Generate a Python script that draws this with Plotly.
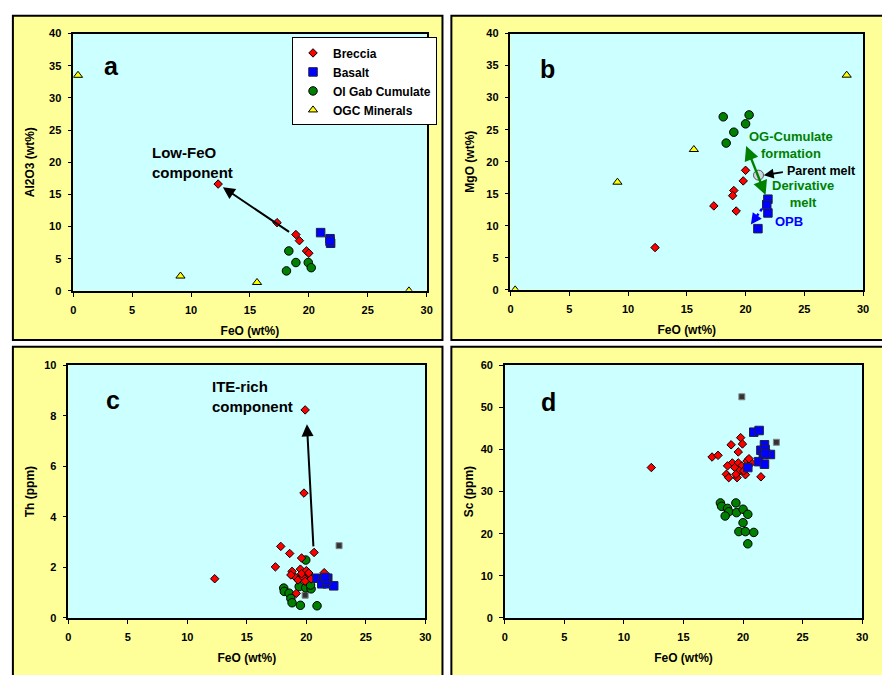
import plotly.graph_objects as go

# ---------------- data ----------------
# Panel a: Al2O3 vs FeO
a_brec_feo = [12.3, 17.3, 18.9, 19.2, 19.8, 20.0]
a_brec_al = [16.6, 10.6, 8.75, 7.8, 6.2, 5.85]
a_bas_feo = [21.0, 21.8, 21.85, 21.8]
a_bas_al = [9.05, 8.1, 7.4, 7.7]
a_ogc_feo = [18.3, 18.9, 19.95, 20.2, 18.1]
a_ogc_al = [6.2, 4.4, 4.4, 3.6, 3.1]
a_min_feo = [0.4, 9.1, 15.6, 28.5]
a_min_al = [33.5, 2.3, 1.3, 0.0]

# Panel b: MgO vs FeO
b_brec_feo = [12.3, 17.3, 19.0, 18.9, 19.2, 19.8, 20.0]
b_brec_mg = [6.6, 13.1, 15.5, 14.7, 12.3, 17.0, 18.65]
b_bas_feo = [21.9, 21.8, 21.9, 21.05]
b_bas_mg = [14.15, 13.3, 12.0, 9.55]
b_ogc_feo = [18.1, 20.3, 20.0, 19.0, 18.35]
b_ogc_mg = [27.0, 27.3, 25.9, 24.6, 22.9]
b_min_feo = [0.4, 9.1, 15.6, 28.6]
b_min_mg = [0.0, 16.8, 21.9, 33.5]
parent_feo = [21.1]
parent_mg = [17.9]

# Panel c: Th vs FeO
c_brec_feo = [19.9, 19.8, 20.65, 17.85, 18.6, 17.4, 12.3, 19.6, 19.15, 21.5,
              18.8, 19.1, 19.5, 20.0, 20.3, 18.7, 19.3, 19.75, 20.4, 19.6, 19.9, 20.2]
c_brec_th = [8.23, 4.94, 2.59, 2.83, 2.55, 2.02, 1.55, 2.37, 0.97, 1.79,
             1.84, 1.6, 1.93, 1.87, 1.67, 1.7, 1.5, 1.6, 1.54, 1.75, 1.45, 1.78]
c_bas_feo = [20.9, 21.4, 21.8, 21.3, 21.75, 22.3, 21.7, 21.6]
c_bas_th = [1.57, 1.54, 1.57, 1.35, 1.35, 1.27, 1.48, 1.6]
c_ogc_feo = [19.95, 19.65, 18.1, 18.15, 18.55, 18.7, 18.8, 19.4, 19.95, 20.25, 20.4, 19.5, 20.9, 20.35]
c_ogc_th = [2.29, 1.7, 1.18, 1.05, 0.98, 0.77, 0.6, 1.24, 1.19, 1.41, 1.15, 0.5, 0.48, 1.3]
c_oth_feo = [22.75, 19.9]
c_oth_th = [2.86, 0.9]

# Panel d: Sc vs FeO
d_brec_feo = [12.3, 19.8, 19.0, 19.95, 17.4, 17.9, 19.6, 19.1, 18.7, 19.6, 20.35, 20.7,
              20.5, 19.9, 19.3, 19.7, 18.6, 18.8, 19.5, 20.2, 19.4, 21.5, 20.05]
d_brec_sc = [35.7, 42.8, 41.1, 41.3, 38.2, 38.6, 39.4, 36.8, 36.1, 36.8, 37.3, 36.8,
             37.8, 36.1, 35.7, 34.9, 34.1, 33.3, 33.3, 34.0, 34.1, 33.5, 34.9]
d_bas_feo = [20.9, 21.35, 21.8, 21.5, 21.85, 21.7, 22.3, 21.3, 21.8, 20.4, 21.9]
d_bas_sc = [44.1, 44.5, 41.1, 39.8, 40.0, 38.8, 38.8, 37.1, 36.5, 35.7, 39.0]
d_ogc_feo = [18.1, 18.2, 18.7, 18.8, 18.5, 19.4, 19.45, 20.0, 20.4, 20.0, 19.65, 20.2, 20.9, 20.4]
d_ogc_sc = [27.3, 26.5, 26.0, 25.2, 24.2, 27.3, 25.0, 25.8, 24.6, 22.6, 20.5, 20.5, 20.3, 17.6]
d_oth_feo = [19.9, 22.8]
d_oth_sc = [52.5, 41.7]

# ---------------- styles ----------------
FONT = "Liberation Sans, Arial, sans-serif"
RED = "#FF0000"
BLUE = "#0000FF"
GREEN = "#008000"
YELLOW = "#FFFF00"

styles = {
    "Breccia": dict(symbol="diamond", size=6.5, color=RED, line=dict(color="black", width=1)),
    "Basalt": dict(symbol="square", size=8.5, color=BLUE, line=dict(color="#202040", width=1)),
    "Ol Gab Cumulate": dict(symbol="circle", size=8.5, color=GREEN, line=dict(color="black", width=1)),
    "OGC Minerals": dict(symbol="triangle-up", size=8, color=YELLOW, line=dict(color="black", width=1)),
}

fig = go.Figure()


def add(x, y, name, ax, legend=False):
    fig.add_trace(go.Scatter(x=x, y=y, mode="markers", name=name, marker=styles[name],
                             xaxis="x" + ax, yaxis="y" + ax, showlegend=legend))


# panel a
add(a_brec_feo, a_brec_al, "Breccia", "", True)
add(a_bas_feo, a_bas_al, "Basalt", "", True)
add(a_ogc_feo, a_ogc_al, "Ol Gab Cumulate", "", True)
add(a_min_feo, a_min_al, "OGC Minerals", "", True)
# panel b
add(b_brec_feo, b_brec_mg, "Breccia", "2")
add(b_bas_feo, b_bas_mg, "Basalt", "2")
add(b_ogc_feo, b_ogc_mg, "Ol Gab Cumulate", "2")
add(b_min_feo, b_min_mg, "OGC Minerals", "2")
fig.add_trace(go.Scatter(x=parent_feo, y=parent_mg, mode="markers", showlegend=False,
                         marker=dict(symbol="circle", size=10, color="#D0D8DC",
                                     line=dict(color="#555555", width=1)),
                         xaxis="x2", yaxis="y2"))
# panel c
fig.add_trace(go.Scatter(x=c_oth_feo, y=c_oth_th, mode="markers", showlegend=False,
                         marker=dict(symbol="square", size=6, color="#333333",
                                     line=dict(color="#888888", width=1)),
                         xaxis="x3", yaxis="y3"))
add(c_ogc_feo, c_ogc_th, "Ol Gab Cumulate", "3")
add(c_brec_feo, c_brec_th, "Breccia", "3")
add(c_bas_feo, c_bas_th, "Basalt", "3")
# panel d
fig.add_trace(go.Scatter(x=d_oth_feo, y=d_oth_sc, mode="markers", showlegend=False,
                         marker=dict(symbol="square", size=6, color="#333333",
                                     line=dict(color="#888888", width=1)),
                         xaxis="x4", yaxis="y4"))
add(d_ogc_feo, d_ogc_sc, "Ol Gab Cumulate", "4")
add(d_brec_feo, d_brec_sc, "Breccia", "4")
add(d_bas_feo, d_bas_sc, "Basalt", "4")

W, H = 882, 675


def xd(p0, p1):
    return [p0 / W, p1 / W]


def yd(top, bottom):
    return [1 - bottom / H, 1 - top / H]


tickfont = dict(family=FONT, size=11, color="black", weight="bold")
titlefont = dict(family=FONT, size=12, color="black", weight="bold")


def xaxis(domain, anchor):
    return dict(domain=domain, anchor=anchor, range=[0, 30], dtick=5, tick0=0,
                showline=True, linecolor="black", linewidth=1.5, mirror=True,
                ticks="outside", ticklen=4, tickcolor="black", tickwidth=1,
                ticklabelstandoff=4,
                showgrid=False, zeroline=False, tickfont=tickfont,
                title=dict(text="FeO (wt%)", font=titlefont, standoff=12))


def yaxis(domain, anchor, rng, dtick, title, standoff):
    return dict(domain=domain, anchor=anchor, range=rng, dtick=dtick, tick0=0,
                showline=True, linecolor="black", linewidth=1.5, mirror=True,
                ticks="outside", ticklen=4, tickcolor="black", tickwidth=1,
                ticklabelstandoff=4,
                showgrid=False, zeroline=False, tickfont=tickfont,
                title=dict(text=title, font=titlefont, standoff=standoff))


fig.update_layout(
    width=W, height=H, margin=dict(l=0, r=0, t=0, b=0),
    paper_bgcolor="white", plot_bgcolor="rgba(0,0,0,0)",
    font=dict(family=FONT, color="black"),
    xaxis=xaxis(xd(71, 428), "y"),
    yaxis=yaxis(yd(28, 290), "x", [0, 40], 5, "Al2O3 (wt%)", 12),
    xaxis2=xaxis(xd(512.7, 869), "y2"),
    yaxis2=yaxis(yd(28, 289), "x2", [0, 40], 5, "MgO (wt%)", 9),
    xaxis3=xaxis(xd(66, 426.7), "y3"),
    yaxis3=yaxis(yd(365.7, 623), "x3", [0, 10], 2, "Th (ppm)", 7),
    xaxis4=xaxis(xd(507, 868), "y4"),
    yaxis4=yaxis(yd(365.7, 623), "x4", [0, 60], 10, "Sc (ppm)", 4),
    legend=dict(x=292 / W, y=1 - 32 / H, xanchor="left", yanchor="top",
                bgcolor="white", bordercolor="black", borderwidth=1,
                font=dict(family=FONT, size=12, color="black", weight="bold"),
                itemsizing="trace", itemwidth=30, tracegroupgap=0),
    showlegend=True,
)

# yellow panel boxes
boxes = [(10, 10, 444, 340), (453, 10, 890, 340), (10, 347, 444, 690), (453, 347, 890, 690)]
shapes = []
for (l, t, r, b) in boxes:
    shapes.append(dict(type="rect", xref="paper", yref="paper", layer="below",
                       x0=l / W, x1=r / W, y0=1 - b / H, y1=1 - t / H,
                       fillcolor="#FFFF99", line=dict(color="black", width=2)))
for ax in ["", "2", "3", "4"]:
    shapes.append(dict(type="rect", xref="x" + ax + " domain", yref="y" + ax + " domain",
                       layer="below", x0=0, x1=1, y0=0, y1=1,
                       fillcolor="#CCFFFF", line=dict(width=0)))
# blue dotted OPB line
shapes.append(dict(type="line", xref="x2", yref="y2", x0=21.7, y0=13.4, x1=20.55, y1=10.5,
                   line=dict(color=BLUE, width=2.5, dash="dot")))
fig.update_layout(shapes=shapes)

ann = []
# panel letters
for ax, letter, x, y in [("", "a", 0.081, 0.935), ("2", "b", 0.079, 0.922),
                         ("3", "c", 0.099, 0.925), ("4", "d", 0.096, 0.918)]:
    ann.append(dict(text=letter, xref="x" + ax + " domain", yref="y" + ax + " domain",
                    x=x, y=y, showarrow=False,
                    font=dict(family=FONT, size=25, color="black", weight="bold")))

# panel a
ann.append(dict(text="", xref="x", yref="y", axref="x", ayref="y",
                x=12.7, y=16.1, ax=18.45, ay=9.0, showarrow=True,
                arrowhead=2, arrowsize=1.2, arrowwidth=2, arrowcolor="black"))
ann.append(dict(text="<b>Low-FeO<br>component</b>", xref="x", yref="y", x=6.5, y=19.9,
                xanchor="left", align="left", showarrow=False,
                font=dict(family=FONT, size=15, color="black")))

# panel b
ann.append(dict(text="", xref="x2", yref="y2", axref="x2", ayref="y2",
                x=21.7, y=14.8, ax=20.0, ay=22.7, showarrow=True,
                arrowhead=2, startarrowhead=2, arrowside="end+start",
                arrowsize=1.2, startarrowsize=1.2, arrowwidth=2.4, arrowcolor=GREEN))
ann.append(dict(text="", xref="x2", yref="y2", axref="x2", ayref="y2",
                x=21.55, y=17.9, ax=23.3, ay=18.4, showarrow=True,
                arrowhead=2, arrowsize=1.1, arrowwidth=1.8, arrowcolor="black"))
ann.append(dict(text="", xref="x2", yref="y2", axref="x2", ayref="y2",
                x=20.45, y=10.2, ax=20.8, ay=11.1, showarrow=True,
                arrowhead=2, arrowsize=1.1, arrowwidth=2, arrowcolor=BLUE))
ann.append(dict(text="<b>Parent melt</b>", xref="x2", yref="y2", x=23.35, y=18.6,
                xanchor="left", showarrow=False, font=dict(family=FONT, size=12.5, color="black")))
ann.append(dict(text="<b>OG-Cumulate<br>formation</b>", xref="x2", yref="y2", x=23.9, y=22.6,
                showarrow=False, align="center", font=dict(family=FONT, size=13, color=GREEN)))
ann.append(dict(text="<b>Derivative<br>melt</b>", xref="x2", yref="y2", x=24.9, y=15.0,
                showarrow=False, align="center", font=dict(family=FONT, size=13, color=GREEN)))
ann.append(dict(text="<b>OPB</b>", xref="x2", yref="y2", x=23.7, y=10.7,
                showarrow=False, font=dict(family=FONT, size=13, color=BLUE)))

# panel c
ann.append(dict(text="", xref="x3", yref="y3", axref="x3", ayref="y3",
                x=20.05, y=7.66, ax=20.6, ay=2.77, showarrow=True,
                arrowhead=2, arrowsize=1.2, arrowwidth=2, arrowcolor="black"))
ann.append(dict(text="<b>ITE-rich<br>component</b>", xref="x3", yref="y3", x=11.9, y=8.75,
                xanchor="left", align="left", showarrow=False,
                font=dict(family=FONT, size=15, color="black")))

fig.update_layout(annotations=ann)

fig.write_html(
    "out.html",
    config={"displayModeBar": False},
    post_script=("document.documentElement.style.margin='0px';"
                 "document.body.style.margin='0px';document.body.style.padding='0px';"
                 "var gd=document.getElementById('{plot_id}');"
                 "gd.style.position='absolute';gd.style.left='0px';gd.style.top='0px';"),
)
